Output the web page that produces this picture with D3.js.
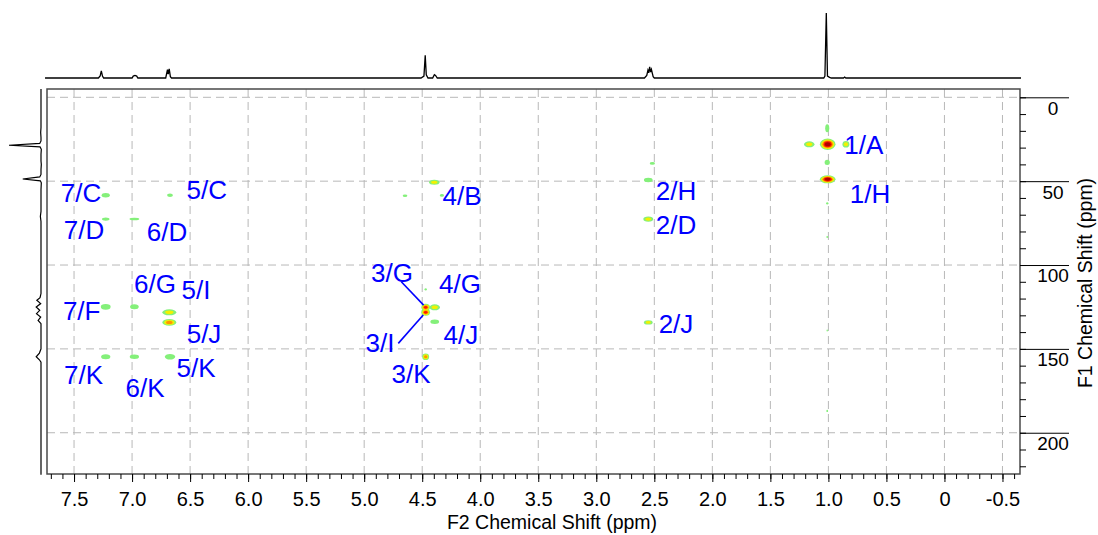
<!DOCTYPE html>
<html><head><meta charset="utf-8">
<script src="https://cdn.jsdelivr.net/npm/d3@7"></script>
<style>
body{margin:0;background:#fff}
svg{display:block}
text{font-family:"Liberation Sans",Arial,Helvetica,sans-serif}
</style>
</head><body>
<svg id="chart" width="1098" height="535"></svg>
<script>
// ---------- data ----------
const f2TickValues = [7.5,7.0,6.5,6.0,5.5,5.0,4.5,4.0,3.5,3.0,2.5,2.0,1.5,1.0,0.5,0,-0.5];
const f2TickLabels = ["7.5","7.0","6.5","6.0","5.5","5.0","4.5","4.0","3.5","3.0","2.5","2.0","1.5","1.0","0.5","0","-0.5"];
const f1TickValues = [0,50,100,150,200];
const f1TickLabels = ["0","50","100","150","200"];
const f2Title = "F2 Chemical Shift (ppm)";
const f1Title = "F1 Chemical Shift (ppm)";

// cross peaks: [F2 ppm, F1 ppm, contour levels, F2 linewidth ppm, F1 linewidth ppm]
const crossPeaks = [
  [1.006, 28.0, 5, 0.135, 6.8],
  [1.165, 28.0, 2, 0.09, 3.6],
  [0.849, 28.0, 2, 0.06, 4.0],
  [1.010, 18.5, 1, 0.035, 4.8],
  [1.010, 38.8, 1, 0.045, 3.0],
  [1.006, 48.9, 5, 0.135, 4.8],
  [1.010, 63.2, 1, 0.02, 1.4],
  [1.010, 83.3, 1, 0.015, 1.2],
  [1.010, 139.0, 1, 0.012, 1.2],
  [1.010, 187.0, 1, 0.015, 1.4],
  [2.517, 39.4, 1, 0.045, 1.6],
  [2.552, 49.3, 1, 0.075, 2.6],
  [2.552, 72.6, 2, 0.085, 3.2],
  [2.552, 134.2, 2, 0.075, 2.6],
  [4.396, 50.7, 2, 0.09, 3.0],
  [4.648, 58.7, 1, 0.04, 1.6],
  [4.330, 58.5, 1, 0.035, 1.6],
  [4.470, 114.5, 1, 0.02, 1.4],
  [4.470, 125.2, 4, 0.075, 4.2],
  [4.470, 128.2, 4, 0.075, 4.2],
  [4.392, 125.2, 2, 0.09, 3.6],
  [4.392, 133.8, 1, 0.075, 2.6],
  [4.470, 154.7, 3, 0.06, 4.0],
  [7.227, 58.4, 1, 0.07, 2.6],
  [6.673, 58.4, 1, 0.05, 2.0],
  [7.227, 72.6, 1, 0.065, 2.0],
  [6.980, 72.6, 1, 0.085, 1.5],
  [7.227, 124.9, 1, 0.085, 3.4],
  [6.980, 124.9, 1, 0.075, 3.0],
  [6.679, 128.2, 2, 0.12, 3.6],
  [6.679, 134.2, 3, 0.12, 4.0],
  [7.227, 154.7, 1, 0.08, 3.0],
  [6.980, 154.7, 1, 0.08, 2.6],
  [6.673, 154.7, 1, 0.09, 3.4]
];

// assignment labels: text, F2 ppm, F1 ppm (label centre)
const labelText = ["1/A","1/H","2/H","2/D","2/J","4/B","3/G","4/G","3/I","4/J","3/K",
                   "7/C","5/C","7/D","6/D","6/G","5/I","7/F","5/J","7/K","6/K","5/K"];
const labelF2 = [0.695,0.642,2.313,2.313,2.313,4.157,4.760,4.174,4.863,4.166,4.596,
                 7.440,6.357,7.414,6.699,6.802,6.449,7.434,6.380,7.418,6.888,6.449];
const labelF1 = [28.4,57.7,55.9,76.1,135.2,58.6,104.8,111.0,146.5,141.7,165.0,
                 57.1,55.3,79.1,80.3,111.3,114.9,127.4,141.2,165.6,173.4,161.4];
// leader lines: [F2 from, F1 from, F2 to, F1 to]
const leaders = [[4.680,110.0,4.488,123.9],[4.706,146.7,4.491,129.8]];

// 1D projection along F2 (top): [ppm, relative intensity]
const projF2 = [[7.75,0],[7.29,0],[7.275,3],[7.265,11],[7.255,3],[7.245,0],[7.0,0],[6.99,3],[6.975,4],[6.96,3],[6.95,0],
  [6.71,0],[6.695,13],[6.688,6],[6.68,14],[6.67,2],[6.66,0],[4.51,0],[4.485,3],[4.474,35],[4.465,5],[4.45,0],
  [4.41,0],[4.395,5],[4.385,4],[4.37,0],[2.585,0],[2.565,4],[2.555,12],[2.548,8],[2.54,17],[2.532,9],[2.525,13],[2.51,2],[2.5,0],
  [1.04,0],[1.03,3],[1.018,100],[1.008,3],[0.99,1],[0.975,0],[0.87,0],[0.86,1.5],[0.85,0],[-0.66,0]];
// 1D projection along F1 (left): [ppm, relative intensity]
const projF1 = [[-5,0],[18,0],[21,1],[24,0],[26,0],[27.5,4],[28.6,100],[29.6,3],[31,-1],[34,0],[38,0],[40,-1],[43,0],
  [46,0],[47.5,4],[48.7,57],[49.8,2],[51,-1],[55,0],[68,0],[71,2],[74,0],[117,0],[119.5,3],[121,13],[123,1],[125,15],
  [127,4],[129,14],[131,1],[133,9],[135,0],[150,0],[152.5,5],[154.7,15],[156.5,5],[158,0],[225,0]];

// ---------- drawing ----------
const svg = d3.select("#chart");
const L = 47, R = 1020, T = 89, B = 474;
const x = d3.scaleLinear().domain([7.733, -0.651]).range([L, R]);
const y = d3.scaleLinear().domain([-4.95, 224.6]).range([T, B]);
const yTop = d3.scaleLinear().domain([0, 100]).range([78, 13]);
const xLeft = d3.scaleLinear().domain([0, 100]).range([41, 9]);

// top projection
svg.append("path")
  .attr("d", d3.line().x(d => x(d[0])).y(d => yTop(d[1]))(projF2))
  .attr("fill", "none").attr("stroke", "#000").attr("stroke-width", 1.3);
// left projection
svg.append("path")
  .attr("d", d3.line().x(d => xLeft(d[1])).y(d => y(d[0]))(projF1))
  .attr("fill", "none").attr("stroke", "#000").attr("stroke-width", 1.2);

// grid
const grid = svg.append("g").attr("stroke", "#b8b8b8").attr("stroke-width", 1).attr("stroke-dasharray", "8,5");
grid.selectAll("line.v").data(f2TickValues).join("line").attr("class", "v")
  .attr("x1", d => x(d)).attr("x2", d => x(d)).attr("y1", T).attr("y2", B);
grid.selectAll("line.h").data(f1TickValues).join("line").attr("class", "h")
  .attr("x1", L).attr("x2", R).attr("y1", d => y(d)).attr("y2", d => y(d));

// contours (layer by layer so overlapping peaks merge)
const levelColors = ["#84f07a", "#f4f000", "#ff9600", "#ff1800", "#b00000"];
const cg = svg.append("g");
for (let k = 0; k < levelColors.length; k++) {
  const pk = crossPeaks.filter(p => p[2] > k);
  cg.selectAll("ellipse.l" + k).data(pk).join("ellipse").attr("class", "l" + k)
    .attr("cx", p => x(p[0])).attr("cy", p => y(p[1]))
    .attr("rx", p => Math.abs(x(0) - x(p[3])) / 2 * (1 - 0.8 * k / p[2]))
    .attr("ry", p => Math.abs(y(p[4]) - y(0)) / 2 * (1 - 0.8 * k / p[2]))
    .attr("fill", levelColors[k]);
}

// leader lines
svg.append("g").selectAll("line").data(leaders).join("line")
  .attr("x1", d => x(d[0])).attr("y1", d => y(d[1])).attr("x2", d => x(d[2])).attr("y2", d => y(d[3]))
  .attr("stroke", "#0000ff").attr("stroke-width", 1.6);

// labels
svg.append("g").selectAll("text").data(labelText).join("text")
  .attr("x", (d, i) => x(labelF2[i])).attr("y", (d, i) => y(labelF1[i]))
  .attr("dy", "0.36em").attr("text-anchor", "middle")
  .attr("font-size", 26).attr("fill", "#0000ff").text(d => d);

// frame
svg.append("rect").attr("x", L).attr("y", T).attr("width", R - L).attr("height", B - T)
  .attr("fill", "none").attr("stroke", "#4a4a4a").attr("stroke-width", 1.5);

// bottom axis: minor ticks then major ticks with labels
const minorF2 = d3.range(-6, 78).map(i => i / 10);
const bMinor = svg.append("g").attr("transform", `translate(0,${B})`)
  .call(d3.axisBottom(x).tickValues(minorF2).tickSize(5).tickFormat(""));
bMinor.select(".domain").remove();
const bAxis = svg.append("g").attr("transform", `translate(0,${B})`)
  .call(d3.axisBottom(x).tickValues(f2TickValues).tickSize(8).tickPadding(10)
    .tickFormat((d, i) => f2TickLabels[i]));
bAxis.select(".domain").remove();
bAxis.selectAll("text").attr("font-size", 20).attr("fill", "#000")
  .attr("font-family", '"Liberation Sans",Arial,sans-serif');

// right axis
const minorF1 = d3.range(0, 23).map(i => i * 10);
const rMinor = svg.append("g").attr("transform", `translate(${R},0)`)
  .call(d3.axisRight(y).tickValues(minorF1).tickSize(6).tickFormat(""));
rMinor.select(".domain").remove();
const rAxis = svg.append("g").attr("transform", `translate(${R},0)`)
  .call(d3.axisRight(y).tickValues(f1TickValues).tickSize(49).tickFormat((d, i) => f1TickLabels[i]));
rAxis.select(".domain").remove();
rAxis.selectAll("text").attr("font-size", 19).attr("fill", "#000")
  .attr("font-family", '"Liberation Sans",Arial,sans-serif')
  .attr("text-anchor", "middle").attr("x", 33)
  .attr("y", 10).attr("dy", "0.36em");

// titles
svg.append("text").attr("x", 552).attr("y", 529).attr("text-anchor", "middle")
  .attr("font-size", 19.5).attr("fill", "#000").text(f2Title);
svg.append("text").attr("transform", "translate(1092,283) rotate(-90)").attr("text-anchor", "middle")
  .attr("font-size", 19.5).attr("fill", "#000").text(f1Title);
</script>
</body></html>
